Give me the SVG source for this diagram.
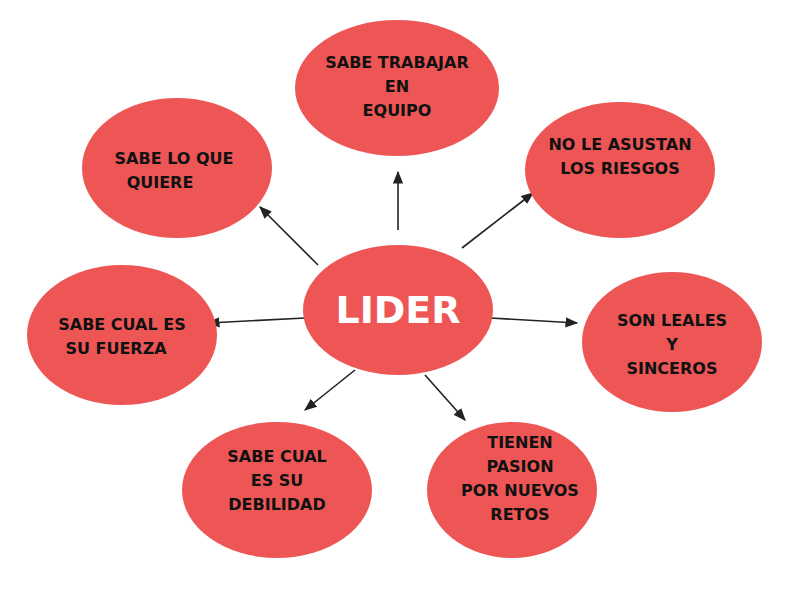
<svg xmlns="http://www.w3.org/2000/svg" width="799" height="600" viewBox="0 0 799 600">
<style>
.n{fill:#ee5656}
.t{font-family:"DejaVu Sans",sans-serif;font-weight:bold;font-size:16px;fill:#111;text-anchor:middle}
.c{stroke:#222;stroke-width:1.6;fill:none;marker-end:url(#a)}
</style>
<defs><marker id="a" viewBox="0 0 10 10" refX="9" refY="5" markerWidth="8" markerHeight="8" orient="auto"><path d="M0,1 L10,5 L0,9 z" fill="#222"/></marker></defs>
<rect width="799" height="600" fill="#fff"/>
<g id="connectors">
<line class="c" x1="398" y1="230" x2="398" y2="172"/>
<line class="c" x1="318" y1="265" x2="260" y2="207"/>
<line class="c" x1="462" y1="248" x2="533" y2="193"/>
<line class="c" x1="305" y1="318" x2="208" y2="323"/>
<line class="c" x1="490" y1="318" x2="577" y2="323"/>
<line class="c" x1="355" y1="370" x2="305" y2="410"/>
<line class="c" x1="425" y1="375" x2="465" y2="420"/>
</g>
<g id="lider"><ellipse class="n" cx="398" cy="310" rx="95" ry="65"/><text x="398" y="323" style="font-family:'DejaVu Sans',sans-serif;font-weight:bold;font-size:38px;fill:#fff;text-anchor:middle">LIDER</text></g>
<g id="equipo"><ellipse class="n" cx="397" cy="88" rx="102" ry="68"/><text class="t" x="397" y="68">SABE TRABAJAR</text><text class="t" x="397" y="92">EN</text><text class="t" x="397" y="116">EQUIPO</text></g>
<g id="quiere"><ellipse class="n" cx="177" cy="168" rx="95" ry="70"/><text class="t" x="174" y="164">SABE LO QUE</text><text class="t" x="160" y="188">QUIERE</text></g>
<g id="riesgos"><ellipse class="n" cx="620" cy="170" rx="95" ry="68"/><text class="t" x="620" y="150">NO LE ASUSTAN</text><text class="t" x="620" y="174">LOS RIESGOS</text></g>
<g id="fuerza"><ellipse class="n" cx="122" cy="335" rx="95" ry="70"/><text class="t" x="122" y="330">SABE CUAL ES</text><text class="t" x="116" y="354">SU FUERZA</text></g>
<g id="leales"><ellipse class="n" cx="672" cy="342" rx="90" ry="70"/><text class="t" x="672" y="326">SON LEALES</text><text class="t" x="672" y="350">Y</text><text class="t" x="672" y="374">SINCEROS</text></g>
<g id="debilidad"><ellipse class="n" cx="277" cy="490" rx="95" ry="68"/><text class="t" x="277" y="462">SABE CUAL</text><text class="t" x="277" y="486">ES SU</text><text class="t" x="277" y="510">DEBILIDAD</text></g>
<g id="pasion"><ellipse class="n" cx="512" cy="490" rx="85" ry="68"/><text class="t" x="520" y="448">TIENEN</text><text class="t" x="520" y="472">PASION</text><text class="t" x="520" y="496">POR NUEVOS</text><text class="t" x="520" y="520">RETOS</text></g>
</svg>
